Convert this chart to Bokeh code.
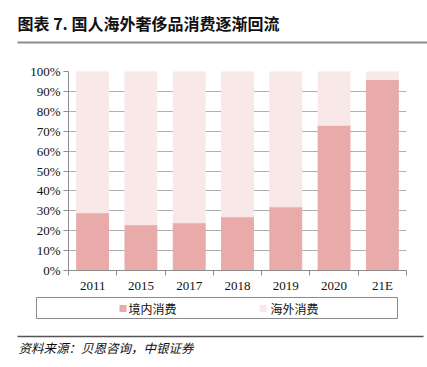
from bokeh.plotting import figure
from bokeh.models import ColumnDataSource, FixedTicker, Range1d
from bokeh.core.properties import value
from bokeh.embed import file_html
from bokeh.resources import INLINE

categories = ["2011", "2015", "2017", "2018", "2019", "2020", "21E"]
domestic = [29, 23, 24, 27, 32, 73, 96]
overseas = [100 - d for d in domestic]
series_names = ["境内消费", "海外消费"]
y_ticks = [0, 10, 20, 30, 40, 50, 60, 70, 80, 90, 100]
title_text = "图表 7. 国人海外奢侈品消费逐渐回流"
source_text = "资料来源：贝恩咨询，中银证券"

C_DOM = "#E9AAAA"
C_OVS = "#F9E8E8"
SERIF = "Liberation Serif"
CJK = "Noto Sans CJK SC"
W = 427


def blank(h):
    f = figure(width=W, height=h, x_range=Range1d(0, W), y_range=Range1d(h, 0),
               output_backend="svg", toolbar_location=None,
               min_border_left=0, min_border_right=0, min_border_top=0, min_border_bottom=0)
    f.axis.visible = False
    f.grid.visible = False
    f.outline_line_color = None
    return f


# ---------- header ----------
head = blank(50)
head.text(x=[17], y=[22], text=[title_text], text_font=value(CJK), text_font_size="16px",
          text_font_style="bold", text_color="#111111", text_baseline="middle", text_align="left")
head.segment(x0=[17], y0=[42], x1=[W], y1=[42], line_color="#8c8c8c", line_width=2)

# ---------- main plot ----------
xs = [i + 0.5 for i in range(len(categories))]
src = ColumnDataSource(dict(x=xs, dom=domestic, ovs=overseas, top=[100] * len(xs)))
p = figure(width=W, height=245, x_range=Range1d(0, len(categories)), y_range=Range1d(0, 100),
           output_backend="svg", toolbar_location=None,
           min_border_left=68, min_border_right=21, min_border_top=21, min_border_bottom=25)
p.outline_line_color = None
p.xgrid.visible = False
p.ygrid.grid_line_color = "#b0b0b0"
p.ygrid.grid_line_width = 1
p.vbar(x="x", bottom=0, top="dom", width=0.66, color=C_DOM, source=src)
p.vbar(x="x", bottom="dom", top="top", width=0.66, color=C_OVS, source=src)

p.yaxis.ticker = FixedTicker(ticks=y_ticks)
p.yaxis.major_label_overrides = {t: f"{t}%" for t in y_ticks}
p.yaxis.major_tick_out = 5
p.yaxis.major_tick_in = 0
p.yaxis.major_label_standoff = 3

p.xaxis.ticker = FixedTicker(ticks=xs, minor_ticks=list(range(len(categories) + 1)))
p.xaxis.major_label_overrides = {x: c for x, c in zip(xs, categories)}
p.xaxis.major_tick_out = 0
p.xaxis.major_tick_in = 0
p.xaxis.minor_tick_out = 5
p.xaxis.minor_tick_in = 0
p.xaxis.major_label_standoff = 2

for ax in (p.xaxis, p.yaxis):
    ax.axis_line_color = "#8c8c8c"
    ax.major_tick_line_color = "#8c8c8c"
    ax.minor_tick_line_color = "#8c8c8c"
    ax.major_label_text_font = SERIF
    ax.major_label_text_font_size = "13px"
    ax.major_label_text_color = "#111111"
p.yaxis.minor_tick_line_color = None

# ---------- footer (legend + source) ----------
foot = blank(72)
foot.quad(left=[36], right=[397], top=[2], bottom=[23], fill_color="white",
          line_color="#8c8c8c", line_width=1)
foot.scatter(x=[122.5, 262.5], y=[13, 13], marker="square", size=7,
             fill_color=[C_DOM, C_OVS], line_color=None)
foot.text(x=[128, 270], y=[13, 13], text=series_names, text_font=value(CJK),
          text_font_size="12px", text_color="#111111", text_baseline="middle", text_align="left")
foot.segment(x0=[17], y0=[41], x1=[423], y1=[41], line_color="#555555", line_width=1.5)
foot.text(x=[18], y=[52], text=[source_text], text_font=value(CJK), text_font_size="12.5px",
          text_font_style="italic", text_color="#111111", text_baseline="middle", text_align="left")

open("out.html", "w").write(file_html([head, p, foot], INLINE))
